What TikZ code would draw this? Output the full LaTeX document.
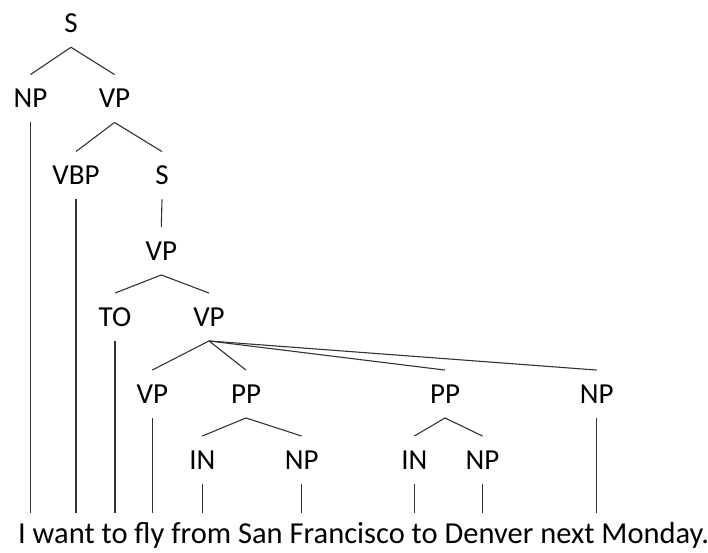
\documentclass[tikz,border=0pt]{standalone}
\usepackage{fontspec}
\setmainfont{Carlito}
\begin{document}
\begin{tikzpicture}[x=1pt,y=-1pt,
  lab/.style={font=\fontsize{29}{31}\selectfont, inner sep=0pt, text height=18.5pt, text depth=0pt, outer ysep=14.7pt},
  sent/.style={font=\fontsize{30.5}{33}\selectfont, inner sep=0pt, text height=20pt, text depth=0pt, outer ysep=11pt},
  br/.style={draw=black!80, line width=1.1pt}]
\useasboundingbox[fill=white] (0,0) rectangle (708,552);
\node[lab] (s0) at (71,23.3) {S};
\node[lab] (np1) at (30.5,98.5) {NP};
\node[lab] (vp1) at (114.5,98.5) {VP};
\node[lab] (vbp) at (76,175.5) {VBP};
\node[lab] (s1) at (162,175.5) {S};
\node[lab] (vp2) at (161.3,251) {VP};
\node[lab] (to) at (115,317) {TO};
\node[lab] (vp3) at (209,317) {VP};
\node[lab] (vp4) at (152.3,394) {VP};
\node[lab] (pp1) at (246,394) {PP};
\node[lab] (pp2) at (445,394) {PP};
\node[lab] (np2) at (596.7,394) {NP};
\node[lab] (in1) at (202.3,460) {IN};
\node[lab] (np3) at (301.7,460) {NP};
\node[lab] (in2) at (414.3,460) {IN};
\node[lab] (np4) at (482.5,460) {NP};
\node[sent] (snt) at (363.7,533.5) {I want to fly from San Francisco to Denver next Monday.};
% branches
\draw[br] (s0.south) -- (np1.north);
\draw[br] (s0.south) -- (vp1.north);
\draw[br] (vp1.south) -- (vbp.north);
\draw[br] (vp1.south) -- (s1.north);
\draw[br] (s1.south) -- (vp2.north);
\draw[br] (vp2.south) -- (to.north);
\draw[br] (vp2.south) -- (vp3.north);
\draw[br] (vp3.south) -- (vp4.north);
\draw[br] (vp3.south) -- (pp1.north);
\draw[br] (vp3.south) -- (pp2.north);
\draw[br] (vp3.south) -- (np2.north);
\draw[br] (pp1.south) -- (in1.north);
\draw[br] (pp1.south) -- (np3.north);
\draw[br] (pp2.south) -- (in2.north);
\draw[br] (pp2.south) -- (np4.north);
% leaves
\foreach \n in {np1,vbp,to,vp4,in1,np3,in2,np4,np2}
  \draw[br] (\n.south) -- (\n.south |- snt.north);
\end{tikzpicture}
\end{document}
